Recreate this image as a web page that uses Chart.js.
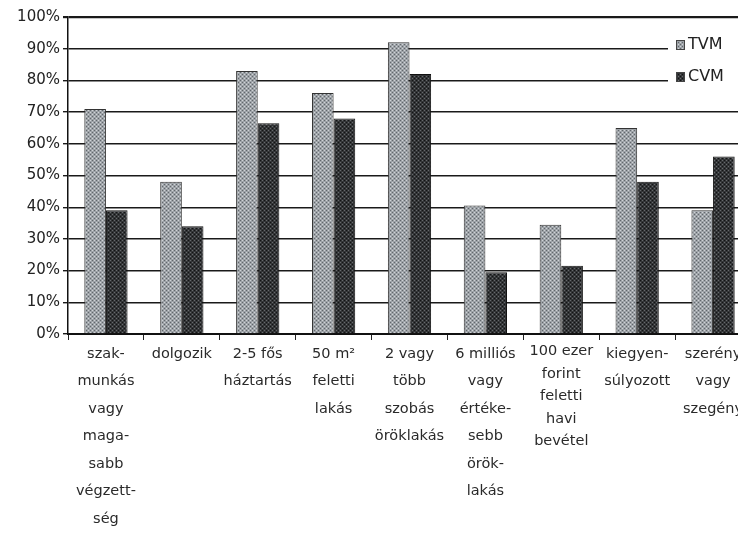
<!DOCTYPE html>
<html>
<head>
<meta charset="utf-8">
<script src="https://cdn.jsdelivr.net/npm/chart.js@4/dist/chart.umd.min.js"></script>
<style>
  html, body { margin: 0; padding: 0; background: #fff; }
  #wrap { width: 738px; height: 537px; overflow: hidden; position: relative; }
  #box { width: 756px; height: 537px; }
</style>
</head>
<body>
<div id="wrap"><div id="box"><canvas id="chart"></canvas></div></div>
<script>
// adatok
const categories = [
    ['szak-', 'munkás', 'vagy', 'maga-', 'sabb', 'végzett-', 'ség'],
    ['dolgozik'],
    ['2-5 fős', 'háztartás'],
    ['50 m²', 'feletti', 'lakás'],
    ['2 vagy', 'több', 'szobás', 'öröklakás'],
    ['6 milliós', 'vagy', 'értéke-', 'sebb', 'örök-', 'lakás'],
    ['100 ezer', 'forint', 'feletti', 'havi', 'bevétel'],
    ['kiegyen-', 'súlyozott'],
    ['szerény', 'vagy', 'szegény']
];
const tvmValues = [71, 48, 83, 76, 92, 40.5, 34.5, 65, 39];
const cvmValues = [39, 34, 66.5, 68, 82, 19.5, 21.5, 48, 56];
const seriesNames = ['TVM', 'CVM'];

// pöttyös minta a nyomtatott oszlopokhoz
function makePattern(base, dot1, dot2) {
    const c = document.createElement('canvas');
    c.width = 4; c.height = 4;
    const g = c.getContext('2d');
    g.fillStyle = base;
    g.fillRect(0, 0, 4, 4);
    g.fillStyle = dot1;
    g.fillRect(0, 0, 1, 1);
    g.fillRect(2, 2, 1, 1);
    g.fillStyle = dot2;
    g.fillRect(2, 0, 1, 1);
    g.fillRect(0, 2, 1, 1);
    return g.createPattern(c, 'repeat');
}
const tvmFill = makePattern('#9da2a7', '#62676c', '#d0d3d6');
const cvmFill = makePattern('#333537', '#121314', '#66696c');

// jelmagyarázat a rajzterületen belül, jobb felül
const insideLegend = {
    id: 'insideLegend',
    afterDraw(chart) {
        const ctx = chart.ctx;
        ctx.save();
        ctx.fillStyle = '#fff';
        ctx.fillRect(668, 33, 90, 56);
        ctx.font = '16px "DejaVu Sans"';
        ctx.textBaseline = 'middle';
        const rows = [45, 77];
        chart.data.datasets.forEach((ds, i) => {
            const y = rows[i];
            ctx.fillStyle = ds.backgroundColor;
            ctx.fillRect(676, y - 5, 9, 10);
            ctx.strokeStyle = '#444';
            ctx.lineWidth = 1;
            ctx.strokeRect(676.5, y - 4.5, 8, 9);
            ctx.fillStyle = '#222';
            ctx.fillText(ds.label, 688, y);
        });
        ctx.restore();
    }
};

new Chart(document.getElementById('chart'), {
    type: 'bar',
    data: {
        labels: categories,
        datasets: [
            {
                label: seriesNames[0],
                data: tvmValues,
                backgroundColor: tvmFill,
                borderColor: '#333',
                borderWidth: 1,
                categoryPercentage: 0.57,
                barPercentage: 1.0
            },
            {
                label: seriesNames[1],
                data: cvmValues,
                backgroundColor: cvmFill,
                borderColor: '#111',
                borderWidth: 1,
                categoryPercentage: 0.57,
                barPercentage: 1.0
            }
        ]
    },
    options: {
        responsive: true,
        maintainAspectRatio: false,
        animation: false,
        layout: { padding: { top: 17, right: 5, left: 0, bottom: 0 } },
        plugins: {
            legend: { display: false },
            tooltip: { enabled: false }
        },
        scales: {
            x: {
                grid: {
                    offset: true,
                    drawOnChartArea: false,
                    drawTicks: true,
                    tickLength: 6,
                    color: '#222'
                },
                border: { color: '#111', width: 2 },
                ticks: {
                    color: '#2a2a2a',
                    padding: 0,
                    maxRotation: 0,
                    autoSkip: false,
                    font: (ctx) => ({
                        family: 'DejaVu Sans',
                        size: 14.5,
                        lineHeight: ctx.index === 6 ? '22.5px' : '27.5px'
                    })
                },
                afterFit(scale) { scale.height = 203; }
            },
            y: {
                min: 0,
                max: 100,
                grid: {
                    color: '#1a1a1a',
                    lineWidth: (ctx) => ctx.tick && ctx.tick.value === 100 ? 2.2 : 1.4,
                    tickLength: 5
                },
                border: { color: '#111', width: 1.5 },
                ticks: {
                    stepSize: 10,
                    color: '#222',
                    padding: 3,
                    font: { family: 'DejaVu Sans', size: 15 },
                    callback: (v) => v + '%'
                },
                afterFit(scale) { scale.width = 68; }
            }
        }
    },
    plugins: [insideLegend]
});
</script>
</body>
</html>
